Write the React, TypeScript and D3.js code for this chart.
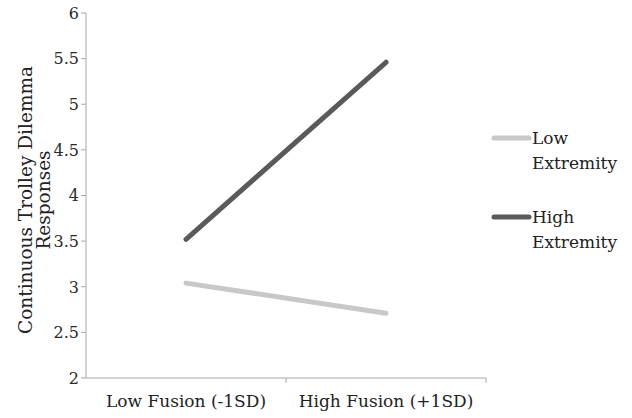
import React from "react";
import * as d3 from "d3";

const categories = ["Low Fusion (-1SD)", "High Fusion (+1SD)"];
const seriesNames = ["Low Extremity", "High Extremity"];
const lowExtremity = [3.04, 2.71];
const highExtremity = [3.52, 5.46];
const yTicks = [2, 2.5, 3, 3.5, 4, 4.5, 5, 5.5, 6];
const colors = ["#c8c8c8", "#5a5a5a"];

const W = 632, H = 418;
const FONT = "'DejaVu Serif', serif";

export default function App() {
  const x = d3.scaleBand<string>().domain(categories).range([86, 486]);
  const y = d3.scaleLinear().domain([2, 6]).range([378, 13]);
  const line = d3
    .line<number>()
    .x((_, i) => (x(categories[i]) as number) + x.bandwidth() / 2)
    .y((d) => y(d));
  const series = [lowExtremity, highExtremity];
  const legendY = [138, 217];
  const tickColor = "#a6a6a6";
  return (
    <svg width={W} height={H} style={{ position: "absolute", left: 0, top: 0, background: "#fff" }}>
      {/* y axis */}
      <line x1={86} x2={86} y1={y(6)} y2={y(2)} stroke={tickColor} strokeWidth={1} />
      {yTicks.map((t) => (
        <g key={t}>
          <line x1={81} x2={86} y1={y(t)} y2={y(t)} stroke={tickColor} />
          <text x={79} y={y(t)} dy="0.36em" textAnchor="end" fontFamily={FONT} fontSize={16} fill="#2a2a2a">
            {t}
          </text>
        </g>
      ))}
      {/* x axis */}
      <line x1={86} x2={486} y1={y(2)} y2={y(2)} stroke={tickColor} />
      {categories.map((c) => (
        <line key={"t" + c} x1={(x(c) as number) + x.bandwidth()} x2={(x(c) as number) + x.bandwidth()} y1={y(2)} y2={y(2) + 5} stroke={tickColor} />
      ))}
      {categories.map((c) => (
        <text key={c} x={(x(c) as number) + x.bandwidth() / 2} y={407} textAnchor="middle" fontFamily={FONT} fontSize={17} fill="#222">
          {c}
        </text>
      ))}
      {/* y title */}
      <g transform="translate(32,200) rotate(-90)">
        <text x={0} y={0} textAnchor="middle" fontFamily={FONT} fontSize={18.5} fill="#222">
          Continuous Trolley Dilemma
        </text>
        <text x={0} y={18} textAnchor="middle" fontFamily={FONT} fontSize={18.5} fill="#222">
          Responses
        </text>
      </g>
      {/* lines */}
      {series.map((s, i) => (
        <path key={i} d={line(s) as string} fill="none" stroke={colors[i]} strokeWidth={5} strokeLinecap="round" />
      ))}
      {/* legend */}
      {seriesNames.map((n, i) => {
        const parts = n.split(" ");
        return (
          <g key={n}>
            <line x1={494} x2={529} y1={legendY[i]} y2={legendY[i]} stroke={colors[i]} strokeWidth={5} strokeLinecap="round" />
            <text x={532} y={legendY[i] + 6} fontFamily={FONT} fontSize={17} fill="#222">
              {parts[0]}
            </text>
            <text x={532} y={legendY[i] + 31} fontFamily={FONT} fontSize={17} fill="#222">
              {parts[1]}
            </text>
          </g>
        );
      })}
    </svg>
  );
}
